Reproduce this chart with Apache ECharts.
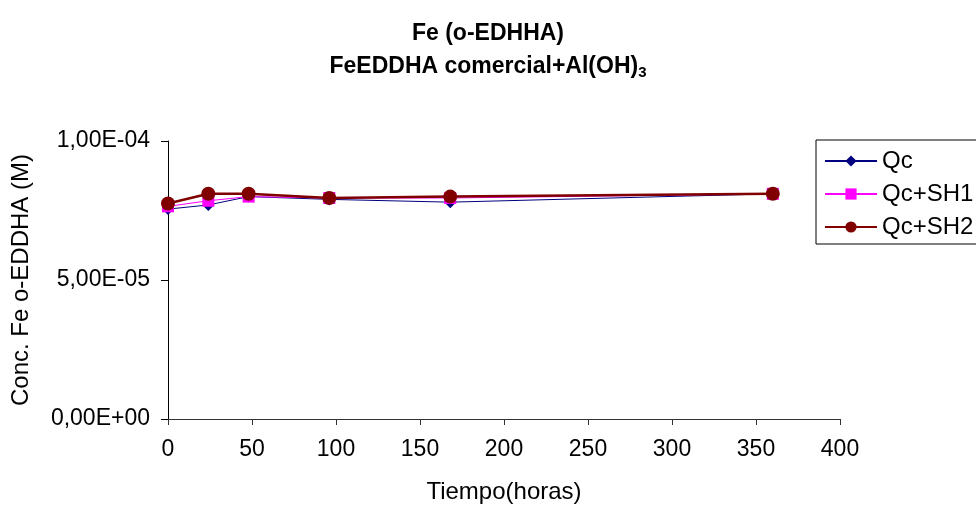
<!DOCTYPE html>
<html>
<head>
<meta charset="utf-8">
<script src="https://cdn.jsdelivr.net/npm/echarts@6/dist/echarts.min.js"></script>
<style>html,body{margin:0;padding:0;background:#fff}#c{width:976px;height:509px}</style>
</head>
<body>
<div id="c"></div>
<script>
var hours = [0, 24, 48, 96, 168, 360];
var qc    = [7.55e-5, 7.7e-5, 8.0e-5, 7.9e-5, 7.8e-5, 8.1e-5];
var qcSH1 = [7.65e-5, 7.85e-5, 8.0e-5, 7.95e-5, 7.95e-5, 8.1e-5];
var qcSH2 = [7.75e-5, 8.1e-5, 8.1e-5, 7.95e-5, 8.0e-5, 8.1e-5];
var seriesNames = ['Qc', 'Qc+SH1', 'Qc+SH2'];
var xTicks = [0, 400, 50];
var yTicks = [0, 1e-4, 5e-5];

function sci(v) {
  if (v === 0) return '0,00E+00';
  var e = Math.floor(Math.log10(Math.abs(v)) + 1e-9);
  var m = v / Math.pow(10, e);
  var s = m.toFixed(2).replace('.', ',');
  var ea = Math.abs(e);
  return s + 'E' + (e < 0 ? '-' : '+') + (ea < 10 ? '0' : '') + ea;
}
function pairs(xs, ys) { return xs.map(function (x, i) { return [x, ys[i]]; }); }

var FONT = 'Liberation Sans, Arial, sans-serif';
var chart = echarts.init(document.getElementById('c'));
chart.setOption({
  animation: false,
  backgroundColor: '#fff',
  title: {
    left: 'center',
    top: 12,
    text: 'Fe (o-EDHHA)\nFeEDDHA comercial+Al(OH){sub|3}',
    textStyle: {
      fontFamily: FONT, fontWeight: 'bold', fontSize: 23, lineHeight: 33, color: '#000',
      rich: { sub: { fontFamily: FONT, fontWeight: 'bold', fontSize: 15, lineHeight: 33, padding: [13, 0, 0, 0], color: '#000' } }
    }
  },
  legend: {
    orient: 'vertical',
    left: 816, top: 140,
    padding: [9, 8, 5, 8],
    itemGap: 9,
    itemWidth: 52, itemHeight: 14,
    borderColor: '#000', borderWidth: 1,
    textStyle: { fontFamily: FONT, fontSize: 24, color: '#000' },
    data: seriesNames
  },
  grid: { left: 168, right: 136, top: 141, bottom: 85 },
  xAxis: {
    type: 'value', min: xTicks[0], max: xTicks[1], interval: xTicks[2],
    name: 'Tiempo(horas)', nameLocation: 'middle', nameGap: 61,
    nameTextStyle: { fontFamily: FONT, fontSize: 24, color: '#000' },
    axisLine: { onZero: false, lineStyle: { color: '#333', width: 1 } },
    axisTick: { show: true, length: 6, lineStyle: { color: '#333' } },
    axisLabel: { fontFamily: FONT, fontSize: 23, color: '#000', margin: 19 },
    splitLine: { show: false }
  },
  yAxis: {
    type: 'value', min: yTicks[0], max: yTicks[1], interval: yTicks[2],
    name: 'Conc. Fe o-EDDHA (M)', nameLocation: 'middle', nameGap: 135,
    nameTextStyle: { fontFamily: FONT, fontSize: 24, color: '#000' },
    axisLine: { show: true, lineStyle: { color: '#000', width: 1 } },
    axisTick: { show: true, length: 7, lineStyle: { color: '#000' } },
    axisLabel: { fontFamily: FONT, fontSize: 23, color: '#000', margin: 18, formatter: sci },
    splitLine: { show: false }
  },
  series: [
    { name: seriesNames[0], type: 'line', data: pairs(hours, qc), symbol: 'diamond', symbolSize: 12,
      itemStyle: { color: '#000080' }, lineStyle: { color: '#000080', width: 1 }, z: 2 },
    { name: seriesNames[1], type: 'line', data: pairs(hours, qcSH1), symbol: 'rect', symbolSize: 12,
      itemStyle: { color: '#ff00ff' }, lineStyle: { color: '#ff00ff', width: 1 }, z: 3 },
    { name: seriesNames[2], type: 'line', data: pairs(hours, qcSH2), symbol: 'circle', symbolSize: 14,
      itemStyle: { color: '#800000' }, lineStyle: { color: '#800000', width: 2.5 }, z: 4 }
  ]
});
</script>
</body>
</html>
